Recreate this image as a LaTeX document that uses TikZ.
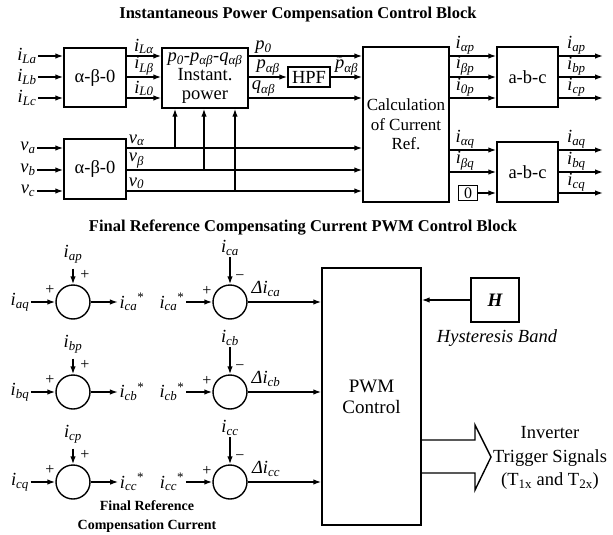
\documentclass[tikz,border=0pt]{standalone}
\usepackage{fontspec}
\setmainfont{Liberation Serif}
\usetikzlibrary{arrows.meta,calc}
\newcommand{\sig}[2]{\textit{#1}\textsubscript{\textit{#2}}}
\tikzset{
  blockbox/.style={draw,line width=1.4pt,inner sep=0pt,align=center},
  sumcirc/.style={draw,circle,line width=1.4pt,minimum size=34pt,inner sep=0pt},
  lbl/.style={inner sep=1.5pt},
  sgn/.style={inner sep=0pt,font=\fontsize{16}{16}\selectfont},
  arr/.style={-{Latex[length=8pt,width=5.5pt]},line width=1.4pt},
  wire/.style={line width=1.4pt},
}
\begin{document}
\begin{tikzpicture}[x=1pt,y=-1pt,every node/.style={font=\fontsize{18.5}{19}\selectfont}]
\useasboundingbox (0,0) rectangle (613,535);
% Upper part: p-q power theory -> reference currents
\node[font=\bfseries\fontsize{16.5}{18}\selectfont] (title1) at (298,15) {Instantaneous Power Compensation Control Block};
\coordinate (ra) at (0,56);
\coordinate (rb) at (0,77);
\coordinate (rc) at (0,98);
\coordinate (rv1) at (0,148);
\coordinate (rv2) at (0,170);
\coordinate (rv3) at (0,191);
\coordinate (rq1) at (0,150);
\coordinate (rq2) at (0,172);
\coordinate (outx) at (603,0);
\node[blockbox,minimum width=62pt,minimum height=59pt] (abI) at (95,77.5) {α-β-0};
\node[blockbox,minimum width=86pt,minimum height=60pt] (pq) at (205,78) {\sig{p}{0}-\sig{p}{αβ}-\sig{q}{αβ}\\Instant.\\power};
\node[blockbox,minimum width=42pt,minimum height=20pt] (hpf) at (309,77) {HPF};
\node[blockbox,minimum width=86pt,minimum height=155pt,font=\fontsize{17}{19.5}\selectfont] (calc) at (406,124.5) {Calculation\\of Current\\Ref.};
\node[blockbox,minimum width=62pt,minimum height=60pt] (abV) at (95,169) {α-β-0};
\node[blockbox,minimum width=61pt,minimum height=60pt] (abcP) at (527.5,77) {a-b-c};
\node[blockbox,minimum width=61pt,minimum height=60pt] (abcQ) at (527.5,172) {a-b-c};
\node[blockbox,minimum width=19pt,minimum height=15pt,font=\fontsize{16}{16}\selectfont] (zero) at (468,193) {0};
\node[lbl] (iLa) at (27,56) {\sig{i}{La}};
\node[lbl] (iLb) at (27,77) {\sig{i}{Lb}};
\node[lbl] (iLc) at (27,98) {\sig{i}{Lc}};
\draw[arr] (iLa) -- (iLa -| abI.west);
\draw[arr] (iLb) -- (iLb -| abI.west);
\draw[arr] (iLc) -- (iLc -| abI.west);
\draw[arr] (abI.east |- ra) -- node[above,lbl] {\sig{i}{Lα}} (pq.west |- ra);
\draw[arr] (abI.east |- rb) -- node[above,lbl] {\sig{i}{Lβ}} (pq.west |- rb);
\draw[arr] (abI.east |- rc) -- node[above,lbl] {\sig{i}{L0}} (pq.west |- rc);
\draw[arr] (pq.east |- ra) -- node[above,pos=0.13,lbl] {\sig{p}{0}} (calc.west |- ra);
\draw[arr] (pq.east |- rb) -- node[above,lbl] {\sig{p}{αβ}} (hpf.west);
\draw[arr] (pq.east |- rc) -- node[above,pos=0.13,lbl] {\sig{q}{αβ}} (calc.west |- rc);
\draw[arr] (hpf.east) -- node[above,lbl] {$\widetilde{\mbox{\textit{p}}}$\textsubscript{\textit{αβ}}} (calc.west |- rb);
\node[lbl] (va) at (28,148) {\sig{v}{a}};
\node[lbl] (vb) at (28,170) {\sig{v}{b}};
\node[lbl] (vc) at (28,191) {\sig{v}{c}};
\draw[arr] (va) -- (va -| abV.west);
\draw[arr] (vb) -- (vb -| abV.west);
\draw[arr] (vc) -- (vc -| abV.west);
\draw[arr] (abV.east |- rv1) -- node[above right,pos=0,lbl] {\sig{v}{α}} (calc.west |- rv1);
\draw[arr] (abV.east |- rv2) -- node[above right,pos=0,lbl] {\sig{v}{β}} (calc.west |- rv2);
\draw[arr] (abV.east |- rv3) -- node[above right,pos=0,lbl] {\sig{v}{0}} (calc.west |- rv3);
\coordinate (tpa) at (175,148);
\coordinate (tpb) at (204,170);
\coordinate (tpc) at (235,191);
\draw[arr] (tpa) -- (tpa |- pq.south);
\draw[arr] (tpb) -- (tpb |- pq.south);
\draw[arr] (tpc) -- (tpc |- pq.south);
\draw[arr] (calc.east |- ra) -- node[above,pos=0.33,lbl] {\sig{i}{αp}} (abcP.west |- ra);
\draw[arr] (calc.east |- rb) -- node[above,pos=0.33,lbl] {\sig{i}{βp}} (abcP.west |- rb);
\draw[arr] (calc.east |- rc) -- node[above,pos=0.33,lbl] {\sig{i}{0p}} (abcP.west |- rc);
\draw[arr] (abcP.east |- ra) -- node[above,pos=0.4,lbl] {\sig{i}{ap}} (outx |- ra);
\draw[arr] (abcP.east |- rb) -- node[above,pos=0.4,lbl] {\sig{i}{bp}} (outx |- rb);
\draw[arr] (abcP.east |- rc) -- node[above,pos=0.4,lbl] {\sig{i}{cp}} (outx |- rc);
\draw[arr] (calc.east |- rq1) -- node[above,pos=0.33,lbl] {\sig{i}{αq}} (abcQ.west |- rq1);
\draw[arr] (calc.east |- rq2) -- node[above,pos=0.33,lbl] {\sig{i}{βq}} (abcQ.west |- rq2);
\draw[arr] (zero) -- (abcQ.west |- zero);
\draw[arr] (abcQ.east |- rq1) -- node[above,pos=0.4,lbl] {\sig{i}{aq}} (outx |- rq1);
\draw[arr] (abcQ.east |- rq2) -- node[above,pos=0.4,lbl] {\sig{i}{bq}} (outx |- rq2);
\draw[arr] (abcQ.east |- zero) -- node[above,pos=0.4,lbl] {\sig{i}{cq}} (outx |- zero);
% Lower part: summing junctions, hysteresis PWM
\node[font=\bfseries\fontsize{16.5}{18}\selectfont] (title2) at (303,228) {Final Reference Compensating Current PWM Control Block};
\node[sumcirc] (sa) at (73,302) {};
\node[sumcirc] (sb) at (73,392) {};
\node[sumcirc] (sc) at (73,482) {};
\node[sumcirc] (da) at (230,302) {};
\node[sumcirc] (db) at (230,392) {};
\node[sumcirc] (dc) at (230,482) {};
\node[lbl] (iap) at (73,254) {\sig{i}{ap}};
\node[lbl] (ibp) at (73,344) {\sig{i}{bp}};
\node[lbl] (icp) at (73,434) {\sig{i}{cp}};
\node[lbl] (iaq) at (20,302) {\sig{i}{aq}};
\node[lbl] (ibq) at (20,392) {\sig{i}{bq}};
\node[lbl] (icq) at (20,482) {\sig{i}{cq}};
\node[lbl] (rfa) at (132,302) {\sig{i}{ca}\textsuperscript{*}};
\node[lbl] (rfb) at (132,392) {\sig{i}{cb}\textsuperscript{*}};
\node[lbl] (rfc) at (132,482) {\sig{i}{cc}\textsuperscript{*}};
\draw[arr,shorten <=4pt] (iap) -- (sa);
\draw[arr,shorten <=4pt] (ibp) -- (sb);
\draw[arr,shorten <=4pt] (icp) -- (sc);
\draw[arr] (iaq) -- (sa);
\draw[arr] (ibq) -- (sb);
\draw[arr] (icq) -- (sc);
\draw[arr] (sa) -- (rfa);
\draw[arr] (sb) -- (rfb);
\draw[arr] (sc) -- (rfc);
\node[sgn] at ($(sa)+(12,-27)$) {+};
\node[sgn] at ($(sb)+(12,-27)$) {+};
\node[sgn] at ($(sc)+(12,-27)$) {+};
\node[sgn] at ($(sa)+(-23,-12)$) {+};
\node[sgn] at ($(sb)+(-23,-12)$) {+};
\node[sgn] at ($(sc)+(-23,-12)$) {+};
\node[lbl] (ica) at (230,248) {\sig{i}{ca}};
\node[lbl] (icb) at (230,338) {\sig{i}{cb}};
\node[lbl] (icc) at (230,428) {\sig{i}{cc}};
\node[lbl] (rla) at (172,302) {\sig{i}{ca}\textsuperscript{*}};
\node[lbl] (rlb) at (172,392) {\sig{i}{cb}\textsuperscript{*}};
\node[lbl] (rlc) at (172,482) {\sig{i}{cc}\textsuperscript{*}};
\draw[arr] (ica) -- (da);
\draw[arr] (icb) -- (db);
\draw[arr] (icc) -- (dc);
\draw[arr] (rla) -- (da);
\draw[arr] (rlb) -- (db);
\draw[arr] (rlc) -- (dc);
\node[sgn] at ($(da)+(10,-24)$) {−};
\node[sgn] at ($(db)+(10,-24)$) {−};
\node[sgn] at ($(dc)+(10,-24)$) {−};
\node[sgn] at ($(da)+(-23,-11)$) {+};
\node[sgn] at ($(db)+(-23,-11)$) {+};
\node[sgn] at ($(dc)+(-23,-11)$) {+};
\node[lbl] at ($(da)+(36,-13)$) {\textit{Δi}\textsubscript{\textit{ca}}};
\node[lbl] at ($(db)+(36,-13)$) {\textit{Δi}\textsubscript{\textit{cb}}};
\node[lbl] at ($(dc)+(36,-13)$) {\textit{Δi}\textsubscript{\textit{cc}}};
\node[blockbox,minimum width=99pt,minimum height=257pt,font=\fontsize{19}{21}\selectfont] (pwm) at (371.5,396.5) {PWM\\Control};
\draw[arr] (da) -- (da -| pwm.west);
\draw[arr] (db) -- (db -| pwm.west);
\draw[arr] (dc) -- (dc -| pwm.west);
\node[blockbox,minimum width=48pt,minimum height=44pt,font=\bfseries\itshape\fontsize{19}{21}\selectfont] (hb) at (495,300) {H};
\draw[arr] (hb) -- (hb -| pwm.east);
\node[font=\itshape\fontsize{18.5}{20}\selectfont] (hband) at (497,338) {Hysteresis Band};
\draw[wire] (421,440) -- (475,440) -- (475,425) -- (491,457) -- (475,490) -- (475,473) -- (421,473);
\node[align=center,font=\fontsize{18.5}{23.5}\selectfont] (trig) at (550,458) {Inverter\\Trigger Signals\\(T\textsubscript{1x} and T\textsubscript{2x})};
\node[align=center,font=\bfseries\fontsize{14}{19}\selectfont] (fref) at (147,517) {Final Reference\\Compensation Current};
\end{tikzpicture}
\end{document}
